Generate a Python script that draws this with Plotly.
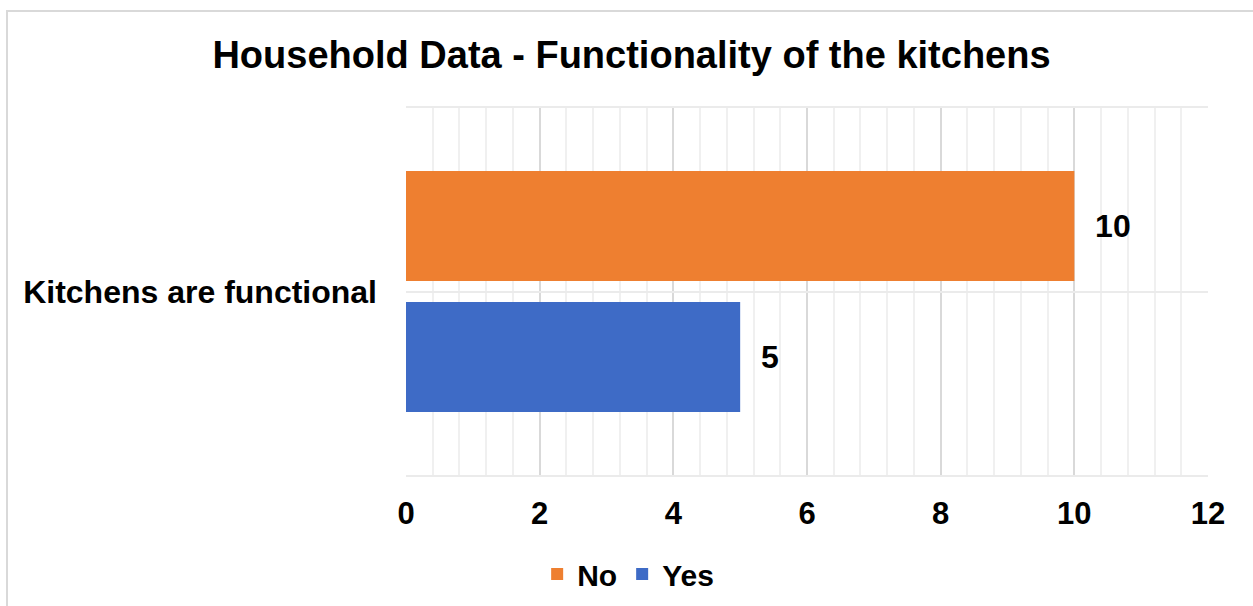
import plotly.graph_objects as go

# Survey result: are the household kitchens functional?
categories = ["Kitchens are functional"]
series_names = ["Yes", "No"]
yes_values = [5]
no_values = [10]

x_ticks = [0, 2, 4, 6, 8, 10, 12]

colors = {"Yes": "#3E6BC6", "No": "#EE7F30"}
font_family = "Liberation Sans, Arial, sans-serif"

fig = go.Figure()
for name, vals in zip(series_names, [yes_values, no_values]):
    fig.add_trace(go.Bar(
        name=name,
        y=categories,
        x=vals,
        orientation="h",
        marker=dict(color=colors[name], line=dict(width=0)),
        texttemplate="\u00a0\u00a0%{x}",
        textposition="outside",
        constraintext="none",
        cliponaxis=False,
        textfont=dict(family=font_family, size=32, color="#000000", weight="bold"),
    ))

fig.update_layout(
    width=1253,
    height=606,
    paper_bgcolor="white",
    plot_bgcolor="white",
    margin=dict(l=406, r=45, t=108, b=131, autoexpand=False),
    barmode="group",
    bargap=0.286,
    bargroupgap=0.16,
    title=dict(
        text="Household Data - Functionality of the kitchens",
        font=dict(family=font_family, size=38, color="#000000", weight="bold"),
        x=0.504, xanchor="center",
        y=0.91, yanchor="middle",
    ),
    legend=dict(
        orientation="h",
        traceorder="reversed",
        x=0.277, xanchor="center",
        y=-0.27, yanchor="middle",
        font=dict(family=font_family, size=30, color="#000000", weight="bold"),
        itemsizing="constant",
    ),
    xaxis=dict(
        range=[0, 12],
        tickvals=x_ticks,
        ticktext=[str(t) for t in x_ticks],
        showgrid=True,
        gridcolor="#D9D9D9",
        gridwidth=1.5,
        zeroline=False,
        showline=True,
        mirror=True,
        linecolor="#EBEBEB",
        linewidth=1.5,
        ticks="",
        ticklabelstandoff=10,
        tickfont=dict(family=font_family, size=31, color="#000000", weight="bold"),
        minor=dict(dtick=0.4, showgrid=True, gridcolor="#F0F0F0", gridwidth=1.5),
    ),
    yaxis=dict(
        showgrid=True,
        gridcolor="#EBEBEB",
        gridwidth=1.5,
        zeroline=False,
        showline=False,
        ticks="",
        ticklabelstandoff=28,
        tickfont=dict(family=font_family, size=32, color="#000000", weight="bold"),
    ),
    shapes=[
        # light frame around the whole chart area
        dict(
            type="rect", xref="paper", yref="paper",
            x0=(7 - 406) / 802, x1=1.1,
            y0=-0.5, y1=(475 - 11) / 367,
            line=dict(color="#D9D9D9", width=2),
            fillcolor="rgba(0,0,0,0)",
            layer="below",
        )
    ],
)

fig.write_html("out.html")
